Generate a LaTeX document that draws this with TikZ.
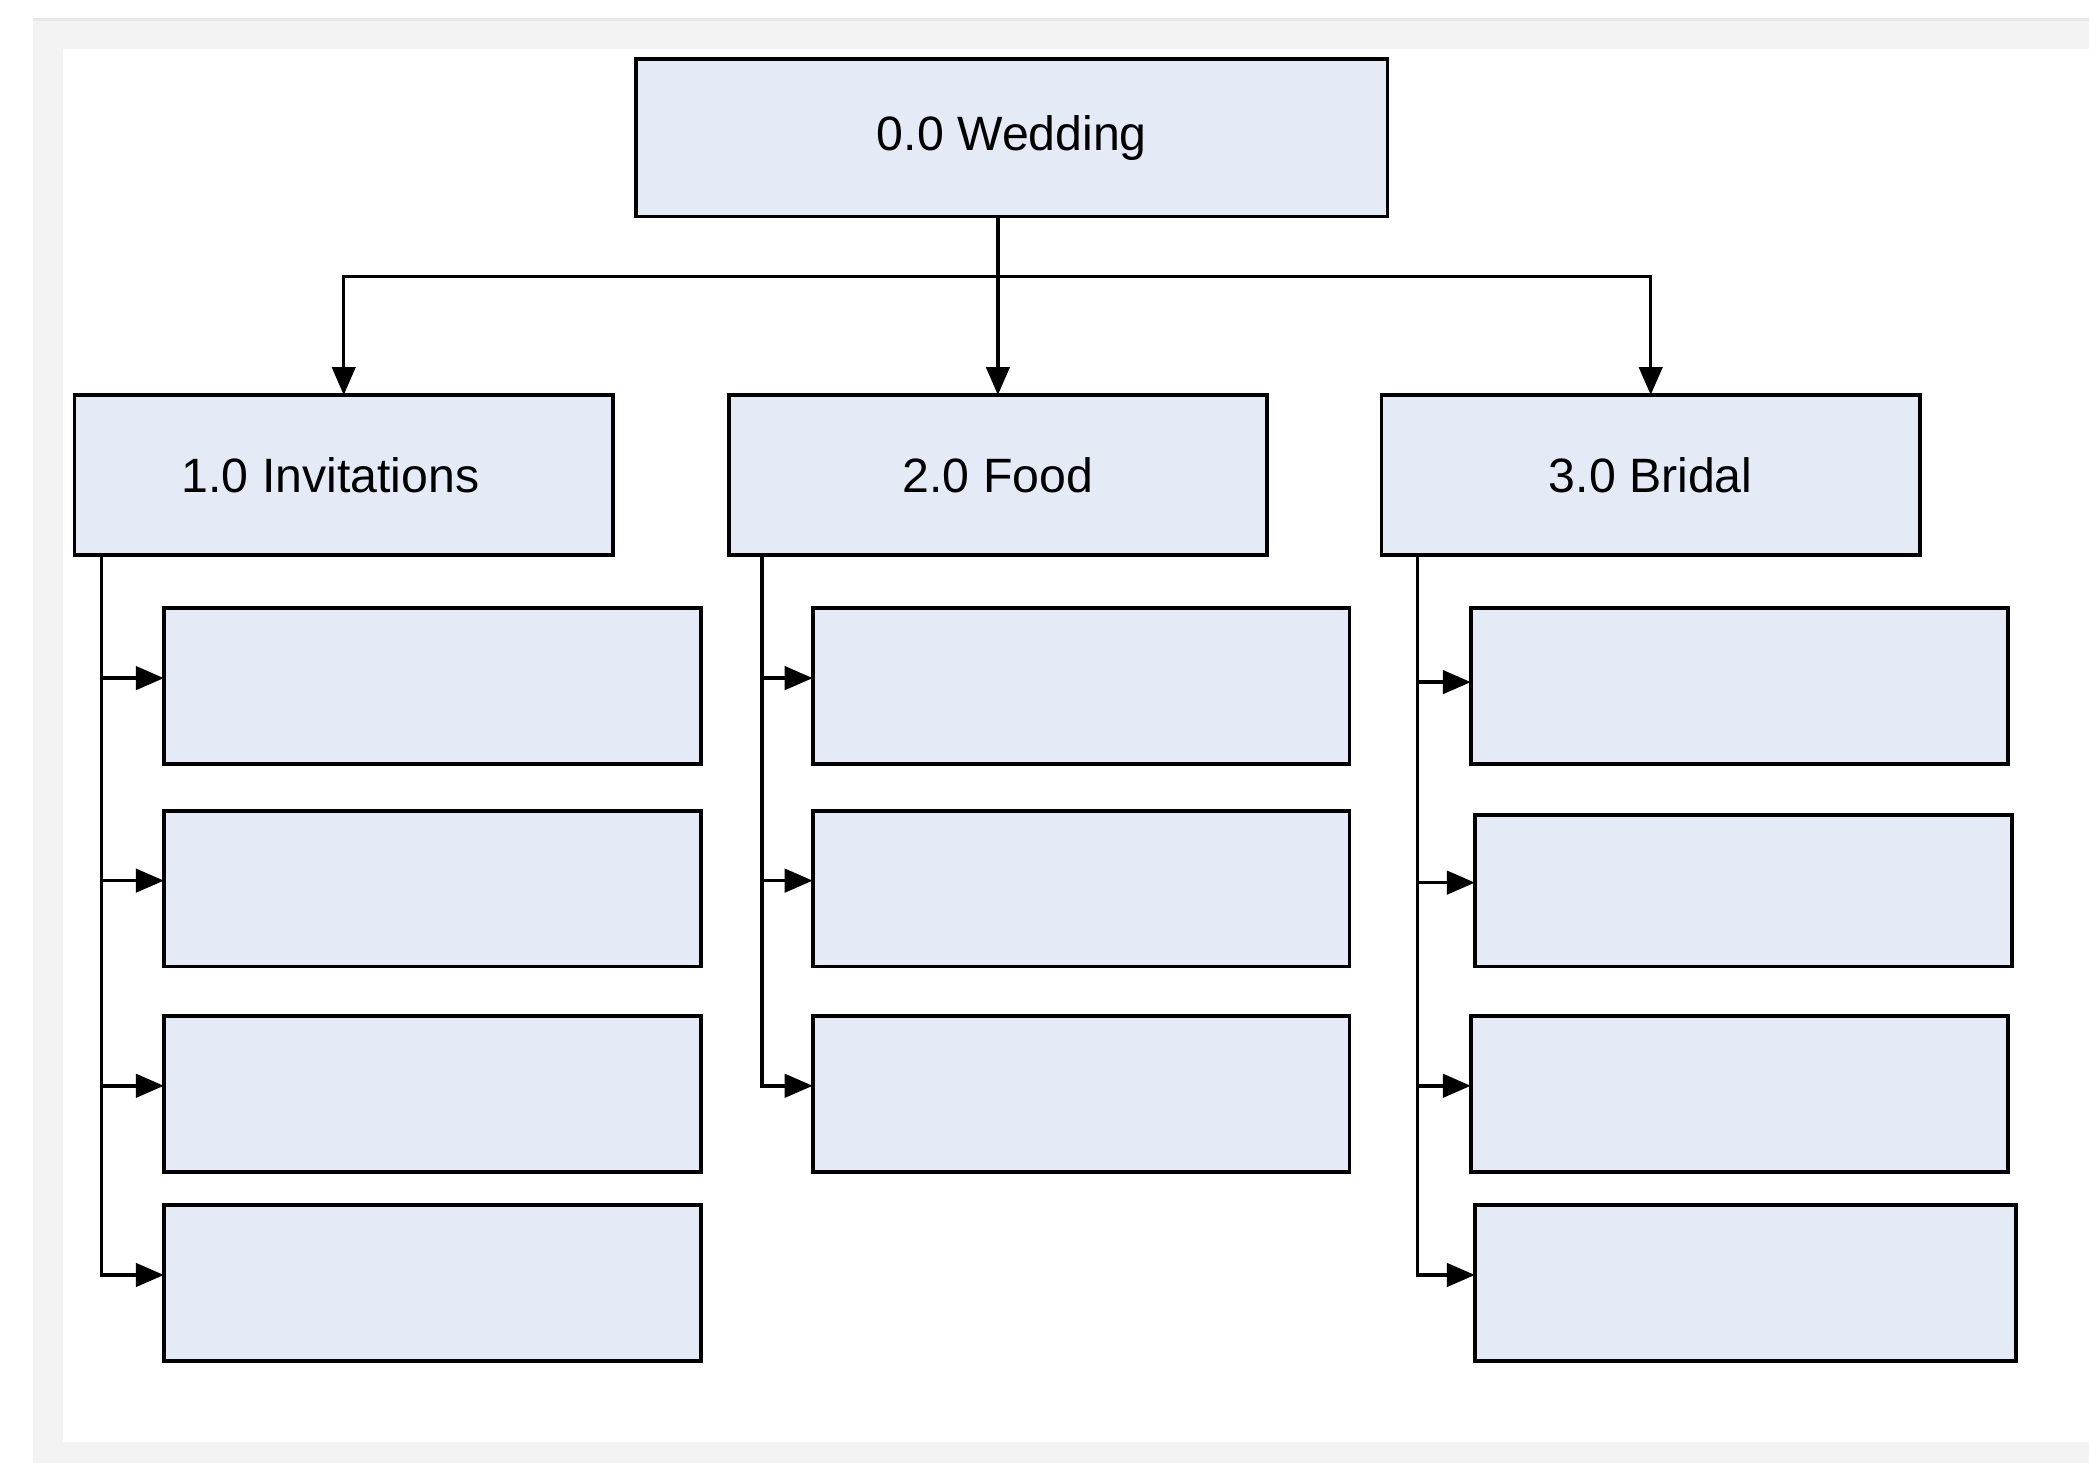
\documentclass[tikz,border=0pt]{standalone}
\usepackage{fontspec}
\setmainfont{Liberation Sans}
\usetikzlibrary{positioning}
\usetikzlibrary{arrows.meta}
\usetikzlibrary{calc}
\definecolor{boxfill}{RGB}{228,234,246}
\definecolor{framegrey}{RGB}{243,243,243}
\definecolor{frameline}{RGB}{232,232,232}

\begin{document}
\begin{tikzpicture}[task/.style={rectangle,draw=black,fill=boxfill,line width=0.8pt,inner sep=0pt,outer sep=0pt,
	font=\fontsize{10.3}{12}\selectfont,minimum width=5.64cm,minimum height=1.18cm},
	phase/.style={task,minimum width=4.04cm,minimum height=1.20cm},
	sub/.style={task,minimum width=4.03cm,minimum height=1.17cm},
	link/.style={line width=0.75pt},
	arr/.style={link,-{Triangle[length=0.21cm,width=0.175cm]}}]
	% page and frame
	\useasboundingbox[fill=white] (0,0) rectangle (15.68,-10.98);
	\fill[framegrey] (0.25,-0.135) rectangle (15.68,-10.98);
	\fill[frameline] (0.25,-0.135) rectangle (15.68,-0.16);
	\fill[white] (0.47,-0.37) rectangle (15.68,-10.82);

	\node[task] (wedding) at (7.595,-1.035) {0.0 Wedding};
	\node[phase] (food) [below=1.34cm of wedding, xshift=-0.105cm] {2.0 Food};
	\node[phase] (inv) [left=0.87cm of food] {\hspace*{-0.2cm}1.0 Invitations};
	\node[phase] (bridal) [right=0.86cm of food] {3.0 Bridal};

	\node[sub] (inv1) [below right=0.40cm and 0.67cm of inv.south west] {};
	\node[sub] (inv2) [below=0.35cm of inv1] {};
	\node[sub] (inv3) [below=0.37cm of inv2] {};
	\node[sub] (inv4) [below=0.25cm of inv3] {};

	\node[sub] (food1) [below right=0.40cm and 0.63cm of food.south west] {};
	\node[sub] (food2) [below=0.35cm of food1] {};
	\node[sub] (food3) [below=0.37cm of food2] {};

	\node[sub] (bridal1) [below right=0.40cm and 0.67cm of bridal.south west] {};
	\node[sub, minimum height=1.14cm] (bridal2) [below=0.38cm of bridal1, xshift=0.03cm] {};
	\node[sub] (bridal3) [below=0.37cm of bridal2, xshift=-0.03cm] {};
	\node[sub, minimum width=4.06cm] (bridal4) [below=0.25cm of bridal3, xshift=0.045cm] {};

	\draw[arr] (wedding.south -| food.north) -- (food.north);
	\draw[arr] (wedding.south -| food.north) -- ++(0,-0.45) -| (inv.north);
	\draw[arr] (wedding.south -| food.north) -- ++(0,-0.45) -| (bridal.north);

	\coordinate (invspine) at ($(inv.south west)+(0.20,0)$);
	\coordinate (foodspine) at ($(food.south west)+(0.25,0)$);
	\coordinate (bridalspine) at ($(bridal.south west)+(0.27,0)$);

	\draw[arr] (invspine) |- ($(inv4.west)+(0,0.06)$);
	\draw[arr] ($(invspine |- inv1.west)+(0,0.06)$) -- ($(inv1.west)+(0,0.06)$);
	\draw[arr] ($(invspine |- inv2.west)+(0,0.06)$) -- ($(inv2.west)+(0,0.06)$);
	\draw[arr] ($(invspine |- inv3.west)+(0,0.06)$) -- ($(inv3.west)+(0,0.06)$);

	\draw[arr] (foodspine) |- ($(food3.west)+(0,0.06)$);
	\draw[arr] ($(foodspine |- food1.west)+(0,0.06)$) -- ($(food1.west)+(0,0.06)$);
	\draw[arr] ($(foodspine |- food2.west)+(0,0.06)$) -- ($(food2.west)+(0,0.06)$);

	\draw[arr] (bridalspine) |- ($(bridal4.west)+(0,0.06)$);
	\draw[arr] ($(bridalspine |- bridal1.west)+(0,0.03)$) -- ($(bridal1.west)+(0,0.03)$);
	\draw[arr] ($(bridalspine |- bridal2.west)+(0,0.06)$) -- ($(bridal2.west)+(0,0.06)$);
	\draw[arr] ($(bridalspine |- bridal3.west)+(0,0.06)$) -- ($(bridal3.west)+(0,0.06)$);
\end{tikzpicture}
\end{document}
